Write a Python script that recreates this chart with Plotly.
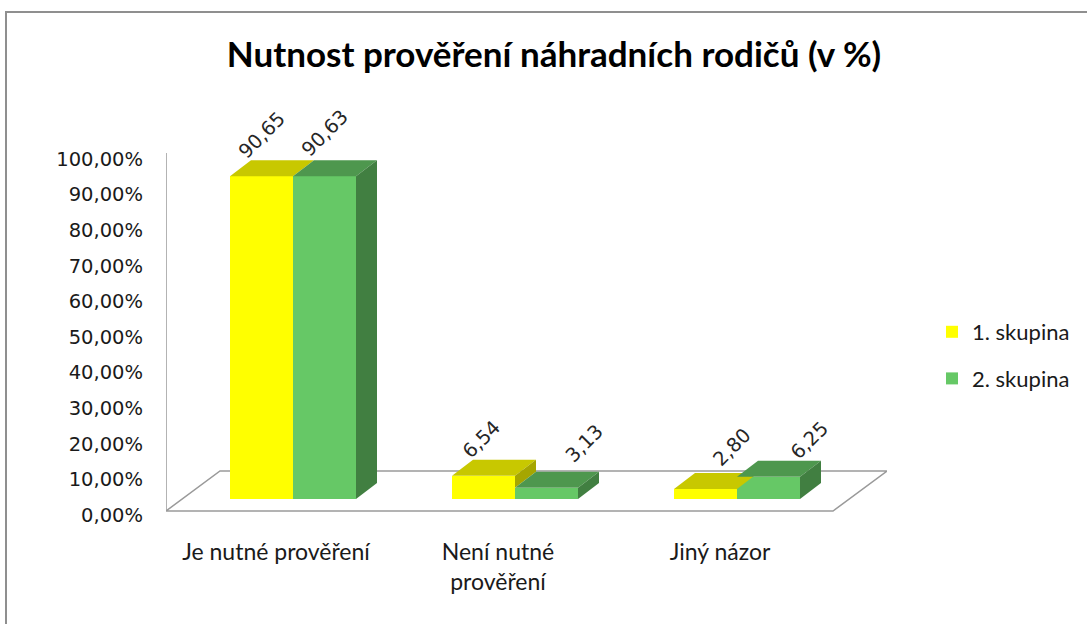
import plotly.graph_objects as go

# ---------------- data ----------------
categories = ["Je nutné prověření", "Není nutné<br>prověření", "Jiný názor"]
series_names = ["1. skupina", "2. skupina"]
group1_values = [90.65, 6.54, 2.80]
group2_values = [90.63, 3.13, 6.25]
y_tick_values = [0, 10, 20, 30, 40, 50, 60, 70, 80, 90, 100]
title_text = "Nutnost prověření náhradních rodičů (v %)"

# ---------------- geometry / styles ----------------
W, H = 1087, 624
PLOT_L, PLOT_R, PLOT_T, PLOT_B = 166, 887, 153, 520     # plot area in px
PX_PER_CAT = 222.0
CAT0_PX = 293.0
PX_PER_PCT = 3.56
BASE_PX = 499.0          # px of bar bottoms (front)
FLOOR_FRONT_PX = 511.0
FLOOR_BACK_PX = 471.0
FLOOR_FRONT_LEFT_PX, FLOOR_FRONT_RIGHT_PX = 166.0, 833.0
FLOOR_BACK_LEFT_PX, FLOOR_BACK_RIGHT_PX = 220.0, 887.0
BAR_W = 63.0 / PX_PER_CAT
DEPTH_DX = 21.0 / PX_PER_CAT
DEPTH_DY = 16.0 / PX_PER_PCT
TICK_SHIFT = 16.0 / PX_PER_PCT
CAT_LABEL_SHIFT = -17.0 / PX_PER_CAT

def px_to_x(p):
    return (p - CAT0_PX) / PX_PER_CAT

def px_to_y(p):
    return (BASE_PX - p) / PX_PER_PCT

x_range = [px_to_x(PLOT_L), px_to_x(PLOT_R)]
y_range = [px_to_y(PLOT_B), px_to_y(PLOT_T)]

colors = {
    "1. skupina": dict(front="#FFFF00", top="#C8C800", side="#A6A600"),
    "2. skupina": dict(front="#66C866", top="#4E974E", side="#417F41"),
}
label_shift = {
    "1. skupina": [(0, 41), (-2, 36), (26, 42)],
    "2. skupina": [(0, 43), (38, 44), (41, 36)],
}

fig = go.Figure()

values_by_series = {series_names[0]: group1_values, series_names[1]: group2_values}
idx = list(range(len(categories)))

# front faces as bars
for s_i, name in enumerate(series_names):
    vals = values_by_series[name]
    offs = -BAR_W / 2 if s_i == 0 else BAR_W / 2
    fig.add_trace(go.Bar(
        x=[i + offs for i in idx], y=vals, width=BAR_W, base=0,
        name=name, legendgroup=name,
        marker=dict(color=colors[name]["front"], line=dict(width=0)),
        hoverinfo="skip",
    ))

# top and side faces (3D effect), computed from the values
for i in idx:
    for s_i, name in enumerate(series_names):
        v = values_by_series[name][i]
        a = i - BAR_W if s_i == 0 else i
        b = a + BAR_W
        c = colors[name]
        fig.add_trace(go.Scatter(
            x=[a, b, b + DEPTH_DX, a + DEPTH_DX, a],
            y=[v, v, v + DEPTH_DY, v + DEPTH_DY, v],
            fill="toself", fillcolor=c["top"], mode="lines", legendgroup=name,
            line=dict(width=0, color=c["top"]), showlegend=False, hoverinfo="skip"))
        if s_i == 0:
            low = values_by_series[series_names[1]][i]
        else:
            low = 0
        if v > low:
            fig.add_trace(go.Scatter(
                x=[b, b, b + DEPTH_DX, b + DEPTH_DX, b],
                y=[low, v, v + DEPTH_DY, low + DEPTH_DY, low],
                fill="toself", fillcolor=c["side"], mode="lines", legendgroup=name,
                line=dict(width=0, color=c["side"]), showlegend=False, hoverinfo="skip"))

# data labels
annotations = []
for s_i, name in enumerate(series_names):
    vals = values_by_series[name]
    for i in idx:
        cx = i - BAR_W / 2 if s_i == 0 else i + BAR_W / 2
        dx, dy = label_shift[name][i]
        annotations.append(dict(
            x=cx, y=vals[i], xref="x", yref="y",
            text=f"{vals[i]:.2f}".replace(".", ","), showarrow=False,
            textangle=-45, xshift=dx, yshift=dy,
            font=dict(family="DejaVu Sans", size=19.5, color="#262626"),
        ))

# floor and axis line as shapes
fx = [px_to_x(FLOOR_FRONT_LEFT_PX), px_to_x(FLOOR_FRONT_RIGHT_PX),
      px_to_x(FLOOR_BACK_RIGHT_PX), px_to_x(FLOOR_BACK_LEFT_PX)]
fy = [px_to_y(FLOOR_FRONT_PX), px_to_y(FLOOR_FRONT_PX),
      px_to_y(FLOOR_BACK_PX), px_to_y(FLOOR_BACK_PX)]
floor_path = "M {} {} L {} {} L {} {} L {} {} Z".format(
    fx[0], fy[0], fx[1], fy[1], fx[2], fy[2], fx[3], fy[3])
shapes = [
    dict(type="path", path=floor_path, xref="x", yref="y", layer="below",
         fillcolor="white", line=dict(color="#9a9a9a", width=1.5)),
    dict(type="line", xref="x", yref="y", layer="below",
         x0=x_range[0], x1=x_range[0], y0=fy[0], y1=y_range[1],
         line=dict(color="#9a9a9a", width=1.5)),
    dict(type="rect", xref="paper", yref="paper", layer="below",
         x0=(6 - PLOT_L) / (PLOT_R - PLOT_L), x1=(1100 - PLOT_L) / (PLOT_R - PLOT_L),
         y0=(PLOT_B - 640) / (PLOT_B - PLOT_T), y1=(PLOT_B - 12) / (PLOT_B - PLOT_T),
         line=dict(color="#8f8f8f", width=2)),
]

fig.update_layout(
    width=W, height=H,
    margin=dict(l=PLOT_L, r=W - PLOT_R, t=PLOT_T, b=H - PLOT_B, pad=0),
    paper_bgcolor="white", plot_bgcolor="rgba(0,0,0,0)",
    barmode="overlay", bargap=0,
    title=dict(text=title_text, x=554 / W, xref="container", xanchor="center",
               y=1 - 55 / H, yref="container", yanchor="middle",
               font=dict(family="Lato", size=35, color="black", weight="bold")),
    xaxis=dict(range=x_range, showgrid=False, zeroline=False, showline=False,
               tickmode="array", tickvals=[i + CAT_LABEL_SHIFT for i in idx],
               ticktext=categories, ticks="", ticklabelstandoff=16,
               tickfont=dict(family="Lato", size=23, color="#1a1a1a"), fixedrange=True),
    yaxis=dict(range=y_range, showgrid=False, zeroline=False, showline=False,
               tickmode="array", tickvals=[t - TICK_SHIFT for t in y_tick_values],
               ticktext=[f"{t:.2f}".replace(".", ",") + "%" for t in y_tick_values],
               ticks="", ticklabelstandoff=22,
               tickfont=dict(family="DejaVu Sans", size=19.5, color="#1a1a1a"), fixedrange=True),
    legend=dict(x=(932 - PLOT_L) / (PLOT_R - PLOT_L), xanchor="left",
                y=(PLOT_B - 311) / (PLOT_B - PLOT_T), yanchor="top",
                font=dict(family="Lato", size=22, color="#1a1a1a"),
                tracegroupgap=15, itemwidth=30, bgcolor="rgba(0,0,0,0)",
                traceorder="grouped"),
    shapes=shapes,
    annotations=annotations,
    showlegend=True,
)

fig.write_html("out.html", config={"displayModeBar": False},
               post_script="document.body.style.margin='0px';")
